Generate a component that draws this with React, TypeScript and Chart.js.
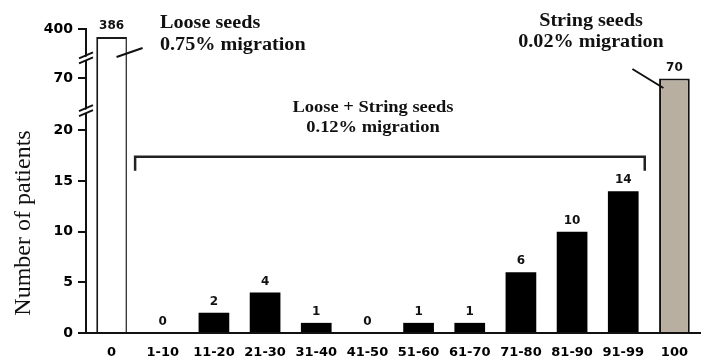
import React, { useEffect, useRef } from "react";
import { Chart, registerables } from "chart.js";

Chart.register(...registerables);

// ---- data ----
const CATEGORIES = ["0", "1-10", "11-20", "21-30", "31-40", "41-50", "51-60", "61-70", "71-80", "81-90", "91-99", "100"];
const PATIENTS = [386, 0, 2, 4, 1, 0, 1, 1, 6, 10, 14, 70];
const Y_TICK_VALUES = [0, 5, 10, 15, 20, 70, 400];
// broken axis: [valueFrom, valueTo, axisFrom, axisTo]
const AXIS_SEGMENTS = [
  [0, 22, 0, 22],
  [58, 78, 22, 27.2],
  [350, 400, 27.2, 30],
];
const Y_TITLE = "Number of patients";
const NOTE_LOOSE = ["Loose seeds", "0.75% migration"];
const NOTE_STRING = ["String seeds", "0.02% migration"];
const NOTE_BOTH = ["Loose + String seeds", "0.12% migration"];

function toAxis(v: number): number {
  for (const [a, b, p0, p1] of AXIS_SEGMENTS) {
    if (v <= b) {
      const t = Math.max(0, (v - a) / (b - a));
      return p0 + t * (p1 - p0);
    }
  }
  return AXIS_SEGMENTS[AXIS_SEGMENTS.length - 1][3];
}

const SERIF = '"Liberation Serif", "Times New Roman", serif';
const SANS = '"DejaVu Sans", sans-serif';
const STRETCH = 1.12;

function stretchedText(ctx: CanvasRenderingContext2D, text: string, x: number, y: number, align: CanvasTextAlign) {
  ctx.save();
  ctx.translate(x, y);
  ctx.scale(STRETCH, 1);
  ctx.textAlign = align;
  ctx.textBaseline = "alphabetic";
  ctx.fillText(text, 0, 0);
  ctx.restore();
}

const decorPlugin = {
  id: "decor",
  afterDraw(chart: any) {
    const ctx: CanvasRenderingContext2D = chart.ctx;
    const xs = chart.scales.x;
    const ys = chart.scales.y;
    const meta = chart.getDatasetMeta(0);
    const area = chart.chartArea;

    ctx.save();
    // value labels
    ctx.fillStyle = "#111";
    ctx.font = `bold 12px ${SANS}`;
    ctx.textAlign = "center";
    ctx.textBaseline = "middle";
    meta.data.forEach((bar: any, i: number) => {
      ctx.fillText(String(PATIENTS[i]), bar.x, bar.y - 11);
    });

    // y title
    ctx.save();
    ctx.translate(24, area.bottom - 110);
    ctx.rotate(-Math.PI / 2);
    ctx.font = `24px ${SERIF}`;
    ctx.fillStyle = "#111";
    ctx.textAlign = "center";
    ctx.textBaseline = "middle";
    ctx.fillText(Y_TITLE, 0, 0);
    ctx.restore();

    // axis breaks
    const ax = area.left;
    for (let s = 1; s < AXIS_SEGMENTS.length; s++) {
      const yb = ys.getPixelForValue(AXIS_SEGMENTS[s][2]);
      ctx.fillStyle = "#fff";
      ctx.beginPath();
      ctx.moveTo(ax - 6, yb + 2);
      ctx.lineTo(ax + 6, yb - 3);
      ctx.lineTo(ax + 6, yb + 1);
      ctx.lineTo(ax - 6, yb + 6);
      ctx.closePath();
      ctx.fill();
      ctx.strokeStyle = "#111";
      ctx.lineWidth = 2;
      ctx.beginPath();
      ctx.moveTo(ax - 7, yb + 1);
      ctx.lineTo(ax + 7, yb - 5);
      ctx.moveTo(ax - 7, yb + 6);
      ctx.lineTo(ax + 7, yb);
      ctx.stroke();
    }

    // bracket over mixed categories
    const step = xs.getPixelForValue(1) - xs.getPixelForValue(0);
    const bl = xs.getPixelForValue(1) - 0.54 * step;
    const br = xs.getPixelForValue(10) + 0.42 * step;
    const bt = ys.getPixelForValue(17.4);
    const bb = ys.getPixelForValue(16);
    ctx.strokeStyle = "#222";
    ctx.lineWidth = 2.5;
    ctx.beginPath();
    ctx.moveTo(bl, bb);
    ctx.lineTo(bl, bt);
    ctx.lineTo(br, bt);
    ctx.lineTo(br, bb);
    ctx.stroke();

    // callout lines
    const x0 = meta.data[0].x;
    const x11 = meta.data[11].x;
    ctx.lineWidth = 2;
    ctx.strokeStyle = "#111";
    ctx.beginPath();
    ctx.moveTo(x0 + 5, 57);
    ctx.lineTo(x0 + 31, 48);
    ctx.moveTo(x11 - 42, 69);
    ctx.lineTo(x11 - 11, 88);
    ctx.stroke();

    // annotation text
    ctx.fillStyle = "#111";
    ctx.font = `bold 18px ${SERIF}`;
    stretchedText(ctx, NOTE_LOOSE[0], 160, 28, "left");
    stretchedText(ctx, NOTE_LOOSE[1], 160, 50, "left");
    stretchedText(ctx, NOTE_STRING[0], 591, 25.5, "center");
    stretchedText(ctx, NOTE_STRING[1], 591, 46.5, "center");
    ctx.font = `bold 16.5px ${SERIF}`;
    stretchedText(ctx, NOTE_BOTH[0], 373, 112, "center");
    stretchedText(ctx, NOTE_BOTH[1], 373, 132, "center");

    ctx.restore();
  },
};

export default function App() {
  const ref = useRef<HTMLCanvasElement | null>(null);

  useEffect(() => {
    if (!ref.current) return;
    const last = CATEGORIES.length - 1;
    const chart = new Chart(ref.current, {
      type: "bar",
      data: {
        labels: CATEGORIES,
        datasets: [
          {
            data: PATIENTS.map(toAxis),
            backgroundColor: (c: any) => (c.dataIndex === 0 ? "#ffffff" : c.dataIndex === last ? "#b9afa1" : "#000000"),
            borderColor: (c: any) => (c.dataIndex === 0 ? "#1a1a1a" : "#111111"),
            borderWidth: (c: any) =>
              c.dataIndex === 0 ? { left: 2, top: 2, right: 1.5, bottom: 0 } : c.dataIndex === last ? { left: 2, top: 2, right: 2, bottom: 0 } : 0,
            barPercentage: 0.6,
            categoryPercentage: 1,
          },
        ],
      },
      options: {
        animation: false,
        responsive: true,
        maintainAspectRatio: false,
        layout: { padding: { top: 29, right: 4, left: 0, bottom: 0 } },
        plugins: { legend: { display: false }, tooltip: { enabled: false } },
        scales: {
          x: {
            grid: { display: false, drawTicks: false },
            border: { display: true, color: "#111", width: 2 },
            ticks: { color: "#000", font: { family: SANS, size: 13, weight: "bold" }, padding: 12, maxRotation: 0, autoSkip: false },
            afterFit: (s: any) => {
              s.height = 27;
            },
          },
          y: {
            min: 0,
            max: 30,
            afterBuildTicks: (s: any) => {
              s.ticks = Y_TICK_VALUES.map((v) => ({ value: toAxis(v) }));
            },
            afterFit: (s: any) => {
              s.width = 86;
            },
            grid: { display: true, drawOnChartArea: false, drawTicks: true, tickLength: 8, color: "#111", lineWidth: 2 },
            border: { display: true, color: "#111", width: 2 },
            ticks: {
              color: "#000",
              padding: 5,
              font: { family: SANS, size: 14, weight: "bold" },
              callback: (_v: any, i: number) => String(Y_TICK_VALUES[i]),
            },
          },
        },
      },
      plugins: [decorPlugin],
    } as any);
    return () => chart.destroy();
  }, []);

  return (
    <div style={{ position: "fixed", left: 0, top: 0, width: 704, height: 360, background: "#fff" }}>
      <canvas ref={ref} />
    </div>
  );
}
